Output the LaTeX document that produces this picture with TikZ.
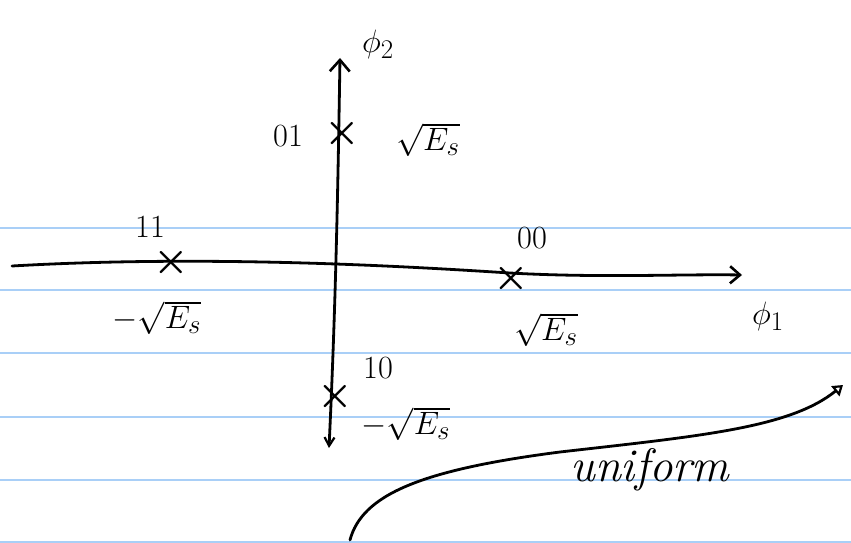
\documentclass[tikz,border=0pt]{standalone}
\usepackage{amsmath,amssymb}
\usepackage{tikz}
\usetikzlibrary{arrows.meta,calc,positioning}
\definecolor{ink}{HTML}{000000}
\definecolor{rule}{HTML}{A9CFF7}

\begin{document}
\begin{tikzpicture}[x=1pt,y=-1pt,line cap=round,line join=round,
  axis/.style={line width=2.8pt,color=ink},
  crs/.style={inner sep=0pt,font=\Huge\boldmath,scale=1.6,color=ink},
  lab/.style={inner sep=1pt,font=\Huge,scale=1.3,color=ink}]
  \useasboundingbox[fill=white] (0,0) rectangle (851,543);

  % ruled paper
  \foreach \y in {228,290,353,417,480,542}
    \draw[rule,line width=1.3pt] (0,\y) -- (851,\y);

  \coordinate (xl) at (12,266);
  \coordinate (xr) at (742,275);
  \coordinate (yb) at (329,448);
  \coordinate (yt) at (340,58);

  % axes
  \draw[axis,-{Straight Barb[length=3.5mm,width=6mm,line width=2.6pt]}] (xl) .. controls (220,254) and (430,268) .. (510,273) .. controls (600,278) and (680,274) .. (xr);
  \draw[axis,{Straight Barb[length=3mm,width=3.5mm,line width=2.2pt]}-{Straight Barb[length=4mm,width=7mm,line width=2.6pt]}] (yb) .. controls (336,300) and (338,180) .. (yt);
  \node[lab] (phi1) at (768,316) {$\phi_1$};
  \node[lab] (phi2) at (378,44) {$\phi_2$};

  % signal points
  \node[crs] (p01) at (342,134) {$\vcenter{\hbox{$\times$}}$};
  \node[crs] (p11) at (171,263) {$\vcenter{\hbox{$\times$}}$};
  \node[crs] (p00) at (511,279) {$\vcenter{\hbox{$\times$}}$};
  \node[crs] (p10) at (335,397) {$\vcenter{\hbox{$\times$}}$};

  \node[lab] (b01) at (288,136) {01};
  \node[lab] (e01) at (428,140) {$\sqrt{E_s}$};
  \node[lab] (b11) at (150,227) {11};
  \node[lab] (e11) at (157,318) {$-\sqrt{E_s}$};
  \node[lab] (b00) at (532,238) {00};
  \node[lab] (e00) at (546,330) {$\sqrt{E_s}$};
  \node[lab] (b10) at (378,368) {10};
  \node[lab] (e10) at (406,424) {$-\sqrt{E_s}$};

  % curve
  \coordinate (cs) at (350,540);
  \coordinate (ce) at (843,385);
  \draw[axis,-{Triangle[open,length=3.5mm,width=4.5mm,line width=2.2pt]}] (cs) .. controls (362,495) and (420,470) .. (560,452) .. controls (700,436) and (790,428) .. (ce);
  \node[lab,font=\Huge\itshape,scale=1.45] (unif) at (650,470) {uniform};
\end{tikzpicture}
\end{document}
